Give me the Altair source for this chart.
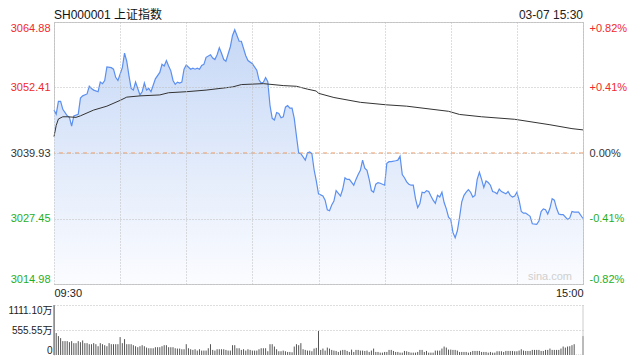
import altair as alt
import pandas as pd

# ---------------- data ----------------
TITLE = "SH000001 上证指数"
STAMP = "03-07 15:30"
WATERMARK = "sina.com"
PREV_CLOSE = 3039.93
Y_TICKS = [3014.98, 3027.45, 3039.93, 3052.41, 3064.88]
X_TICKS = [0, 30, 60, 90, 120, 150, 180, 210, 240]
X_START_LABEL = "09:30"
X_END_LABEL = "15:00"
VOL_TICKS = [0, 555.55, 1111.10]

# minute index (0 = 09:30, 120 = 11:30/13:00, 240 = 15:00) and last price
PRICE_MIN = [0, 1, 2, 3, 4, 6, 7, 8, 9, 11, 12, 13, 15, 16, 17, 18, 20, 21, 22, 23,
             24, 26, 27, 28, 29, 31, 32, 33, 34, 35, 36, 37, 38, 39, 40, 41, 42, 43, 44, 45,
             46, 48, 49, 50, 51, 52, 53, 54, 55, 56, 57, 58, 59, 60, 62, 63, 64, 65, 66, 67,
             68, 69, 71, 72, 73, 74, 75, 76, 77, 78, 80, 81, 82, 84, 85, 87, 88, 90, 92, 93,
             94, 95, 96, 97, 98, 99, 100, 101, 102, 103, 104, 105, 106, 107, 108, 109, 110, 111, 112, 114,
             115, 116, 117, 118, 119, 120, 122, 123, 124, 125, 126, 127, 128, 130, 131, 132, 133, 134, 136, 137,
             138, 139, 140, 141, 142, 143, 144, 145, 146, 147, 148, 150, 151, 152, 153, 155, 156, 157, 158, 159,
             160, 161, 162, 163, 164, 165, 166, 167, 168, 169, 170, 171, 172, 173, 174, 175, 176, 177, 178, 179,
             180, 181, 182, 183, 184, 185, 186, 187, 188, 189, 190, 191, 192, 193, 194, 195, 196, 197, 198, 199,
             200, 201, 202, 203, 205, 206, 207, 208, 209, 210, 211, 212, 213, 214, 215, 216, 217, 219, 220, 221,
             222, 223, 224, 225, 226, 227, 228, 229, 230, 231, 233, 234, 235, 236, 237, 238, 240]
PRICE = [3048.11, 3047.32, 3049.76, 3049.76, 3048.24, 3047.01, 3046.72, 3045.07, 3047.01, 3047.32,
         3050.39, 3050.81, 3051.18, 3052.64, 3052.22, 3051.91, 3051.60, 3053.43, 3053.14, 3053.74,
         3056.31, 3056.18, 3055.89, 3054.35, 3053.74, 3056.18, 3058.94, 3057.41, 3054.66, 3052.22,
         3051.91, 3053.43, 3052.22, 3050.99, 3051.60, 3053.25, 3051.91, 3052.22, 3051.60, 3052.83,
         3054.06, 3055.27, 3056.81, 3056.50, 3057.54, 3056.50, 3055.58, 3053.74, 3053.01, 3053.43,
         3053.25, 3053.43, 3055.89, 3056.68, 3055.89, 3056.07, 3055.89, 3056.07, 3055.89, 3056.62,
         3056.81, 3058.15, 3058.64, 3058.02, 3057.73, 3058.64, 3059.98, 3058.94, 3057.73, 3057.41,
         3060.17, 3062.31, 3063.41, 3061.21, 3061.21, 3058.46, 3057.54, 3056.92, 3055.71, 3053.87,
         3053.25, 3053.40, 3054.30, 3053.50, 3048.97, 3046.53, 3046.22, 3047.63, 3047.45, 3046.64,
         3046.83, 3048.66, 3048.97, 3048.48, 3048.48, 3046.53, 3043.16, 3039.93, 3039.80, 3038.57,
         3039.93, 3040.11, 3039.80, 3036.74, 3034.61, 3032.15, 3031.73, 3030.94, 3029.11, 3028.92,
         3030.02, 3030.76, 3032.77, 3031.73, 3033.07, 3035.21, 3034.90, 3034.90, 3033.80, 3034.90,
         3035.82, 3036.63, 3038.57, 3037.05, 3036.63, 3034.90, 3032.77, 3032.46, 3033.99, 3034.30,
         3034.17, 3033.80, 3037.97, 3038.28, 3038.28, 3038.46, 3038.57, 3039.31, 3035.82, 3035.21,
         3034.43, 3033.99, 3033.80, 3033.80, 3031.23, 3029.53, 3030.32, 3032.46, 3032.33, 3032.77,
         3032.59, 3031.73, 3030.94, 3030.32, 3031.86, 3031.55, 3032.46, 3030.50, 3029.29, 3027.69,
         3027.27, 3024.81, 3023.78, 3025.12, 3027.69, 3030.63, 3031.86, 3032.46, 3032.96, 3032.46,
         3031.55, 3031.86, 3034.90, 3036.26, 3034.90, 3033.38, 3034.61, 3034.30, 3033.80, 3032.59,
         3032.46, 3032.15, 3033.07, 3032.59, 3032.15, 3032.59, 3031.86, 3031.55, 3031.73, 3032.46,
         3030.94, 3028.79, 3028.48, 3028.48, 3028.19, 3027.88, 3026.46, 3026.35, 3026.96, 3028.79,
         3029.29, 3029.11, 3028.30, 3029.40, 3031.23, 3030.94, 3029.40, 3028.30, 3028.19, 3028.19,
         3027.27, 3027.57, 3028.79, 3028.66, 3028.66, 3028.66, 3027.45]

# average price line
AVG_MIN = [0, 1, 2, 4, 6, 10, 12, 18, 24, 30, 33, 39, 48, 52, 60, 69, 81, 85, 95, 104,
           110, 115, 119, 120, 127, 139, 151, 160, 179, 184, 194, 209, 225, 235, 240]
AVG = [3043.05, 3045.18, 3046.41, 3046.83, 3046.83, 3046.72, 3047.01, 3048.11, 3048.85, 3049.95,
       3050.57, 3050.81, 3050.99, 3051.41, 3051.60, 3051.91, 3052.51, 3052.96, 3053.14, 3052.77,
       3052.64, 3052.09, 3051.73, 3051.30, 3050.50, 3049.58, 3049.10, 3048.85, 3047.87, 3047.27,
       3046.83, 3046.35, 3045.31, 3044.57, 3044.33]

# volume per minute, in 万 (morning 09:30-11:30, then afternoon 13:01-15:00)
VOL_AM = [1110, 488, 420, 375, 308, 308, 308, 285, 308, 263,
          263, 308, 285, 323, 263, 263, 240, 240, 263, 240,
          195, 263, 240, 218, 195, 263, 240, 240, 240, 240,
          398, 263, 353, 240, 240, 240, 218, 195, 173, 195,
          218, 195, 165, 150, 150, 150, 173, 173, 173, 195,
          218, 218, 173, 173, 173, 150, 143, 143, 128, 128,
          240, 150, 128, 113, 128, 98, 128, 98, 98, 98,
          150, 240, 113, 98, 128, 128, 128, 128, 113, 98,
          98, 218, 218, 150, 150, 113, 128, 98, 128, 113,
          98, 98, 98, 128, 150, 150, 150, 83, 240, 240,
          188, 128, 83, 83, 98, 83, 68, 68, 60, 188,
          240, 218, 263, 128, 113, 98, 98, 83, 143, 158,
          533]
VOL_PM = [113, 143, 98, 165, 143, 113, 98, 90, 68, 98,
          113, 113, 90, 68, 120, 68, 113, 113, 98, 98,
          90, 98, 68, 98, 143, 68, 68, 53, 53, 68,
          68, 113, 113, 90, 68, 68, 53, 53, 90, 83,
          68, 53, 53, 53, 68, 113, 113, 68, 90, 53,
          53, 53, 98, 98, 98, 143, 188, 165, 120, 120,
          113, 113, 98, 68, 68, 68, 68, 53, 68, 90,
          90, 90, 90, 68, 68, 68, 53, 68, 53, 53,
          83, 83, 83, 68, 90, 90, 90, 90, 83, 83,
          98, 128, 98, 90, 90, 90, 113, 113, 113, 113,
          90, 90, 113, 113, 143, 113, 113, 113, 113, 143,
          188, 165, 188, 195, 218, 240, 5, 5, 5, 420]

# ---------------- layout / style ----------------
W = 529
H_PRICE = 262
H_VOL = 50
FONT = "Liberation Sans, Arial, Noto Sans CJK SC, sans-serif"
GRID = "#bdbdbd"
FRAME = "#cccccc"
RED = "#f02a2a"
GREEN = "#1fae1f"
LINE_BLUE = "#5b8ff0"

price_df = pd.DataFrame({"t": PRICE_MIN, "p": PRICE})
avg_df = pd.DataFrame({"t": AVG_MIN, "a": AVG})
vol = VOL_AM + VOL_PM
vol_df = pd.DataFrame({"t": list(range(len(vol))), "v": vol})

y_lo, y_hi = Y_TICKS[0], Y_TICKS[-1]
xscale = alt.Scale(domain=[X_TICKS[0], X_TICKS[-1]], nice=False, zero=False)


def yscale():
    return alt.Scale(domain=[y_lo, y_hi], nice=False, zero=False)


x_axis = alt.Axis(
    values=X_TICKS, grid=True, gridColor=GRID, gridDash=[1, 2], ticks=False, domain=False,
    labelExpr=f"datum.value == {X_TICKS[0]} ? '{X_START_LABEL}' : (datum.value == {X_TICKS[-1]} ? '{X_END_LABEL}' : '')",
    labelFlush=True, labelPadding=3, labelFontSize=11, labelColor="#222222", title=None, zindex=1,
)
x_enc = alt.X("t:Q", scale=xscale, axis=x_axis)

color_expr = f"datum.value > {PREV_CLOSE + 0.001} ? '{RED}' : (datum.value < {PREV_CLOSE - 0.001} ? '{GREEN}' : '#333333')"

left_axis = alt.Axis(
    values=Y_TICKS, format=".2f", grid=True, gridColor=GRID, gridDash=[1, 2],
    ticks=False, domain=False, labelFlush=True, labelPadding=4, labelFontSize=11,
    labelColor={"expr": color_expr}, title=None, zindex=1,
)
right_axis = alt.Axis(
    values=Y_TICKS, orient="right", grid=False, ticks=False, domain=False,
    labelFlush=True, labelPadding=6, labelFontSize=11,
    labelExpr=(f"(datum.value > {PREV_CLOSE + 0.001} ? '+' : (datum.value < {PREV_CLOSE - 0.001} ? '-' : ''))"
               f" + format(abs(datum.value / {PREV_CLOSE} - 1) * 100, '.2f') + '%'"),
    labelColor={"expr": color_expr}, title=None,
)

gradient = alt.Gradient(
    gradient="linear",
    stops=[alt.GradientStop(color="#c6d8f6", offset=0), alt.GradientStop(color="#fbfcff", offset=1)],
    x1=1, x2=1, y1=0, y2=1,
)

area = alt.Chart(price_df).mark_area(color=gradient).encode(
    x=x_enc, y=alt.Y("p:Q", scale=yscale(), axis=left_axis), y2=alt.datum(y_lo)
)
price_line = alt.Chart(price_df).mark_line(color=LINE_BLUE, strokeWidth=1.2).encode(
    x=x_enc, y=alt.Y("p:Q", scale=yscale(), axis=None)
)
zero_rule = alt.Chart(pd.DataFrame({"p": [PREV_CLOSE]})).mark_rule(
    color="#f0975c", strokeDash=[4, 4], strokeWidth=1
).encode(y=alt.Y("p:Q", scale=yscale(), axis=None))
avg_line = alt.Chart(avg_df).mark_line(color="#333333", strokeWidth=1).encode(
    x=x_enc, y=alt.Y("a:Q", scale=yscale(), axis=right_axis)
)
title_txt = alt.Chart(pd.DataFrame({"s": [TITLE]})).mark_text(
    align="left", baseline="alphabetic", fontSize=12, color="#111111"
).encode(x=alt.value(0), y=alt.value(-3), text="s:N")
stamp_txt = alt.Chart(pd.DataFrame({"s": [STAMP]})).mark_text(
    align="right", baseline="alphabetic", fontSize=12, color="#222222"
).encode(x=alt.value(W), y=alt.value(-3), text="s:N")
mark_txt = alt.Chart(pd.DataFrame({"s": [WATERMARK]})).mark_text(
    align="right", baseline="middle", fontSize=11, color="#cfcfcf"
).encode(x=alt.value(W - 11), y=alt.value(H_PRICE - 7), text="s:N")

price_panel = alt.layer(
    area, zero_rule, price_line, avg_line, mark_txt, title_txt, stamp_txt
).resolve_scale(y="independent").properties(
    width=W, height=H_PRICE, view=alt.ViewBackground(stroke=FRAME, strokeWidth=1)
)

vol_axis = alt.Axis(
    values=VOL_TICKS, grid=True, gridDash=[1, 2],
    gridColor={"expr": f"datum.value == 0 ? 'transparent' : '{GRID}'"},
    ticks=False, domain=True, domainColor=FRAME, labelFlush=True, labelPadding=2,
    labelFontSize=10, labelColor="#222222",
    labelExpr="datum.value == 0 ? '0' : format(datum.value, '.2f') + '万'", title=None,
)
vol_bars = alt.Chart(vol_df).mark_rule(color="#555555", strokeWidth=1).encode(
    x=alt.X("t:Q", scale=xscale, axis=None),
    y=alt.Y("v:Q", scale=alt.Scale(domain=[VOL_TICKS[0], VOL_TICKS[-1]], nice=False), axis=vol_axis),
    y2=alt.datum(0),
)
vol_right = alt.Chart(pd.DataFrame({"a": [0]})).mark_rule(color=FRAME).encode(
    x=alt.value(W), y=alt.value(0), y2=alt.value(H_VOL)
)
vol_panel = alt.layer(vol_bars, vol_right).properties(
    width=W, height=H_VOL, view=alt.ViewBackground(stroke=None)
)

chart = alt.vconcat(price_panel, vol_panel, spacing=5).properties(
    padding={"left": 0, "top": 0, "right": 4, "bottom": 0}
).configure(font=FONT).configure_view(stroke=None)

chart.save("out.html", embed_options={"renderer": "svg", "actions": False})
